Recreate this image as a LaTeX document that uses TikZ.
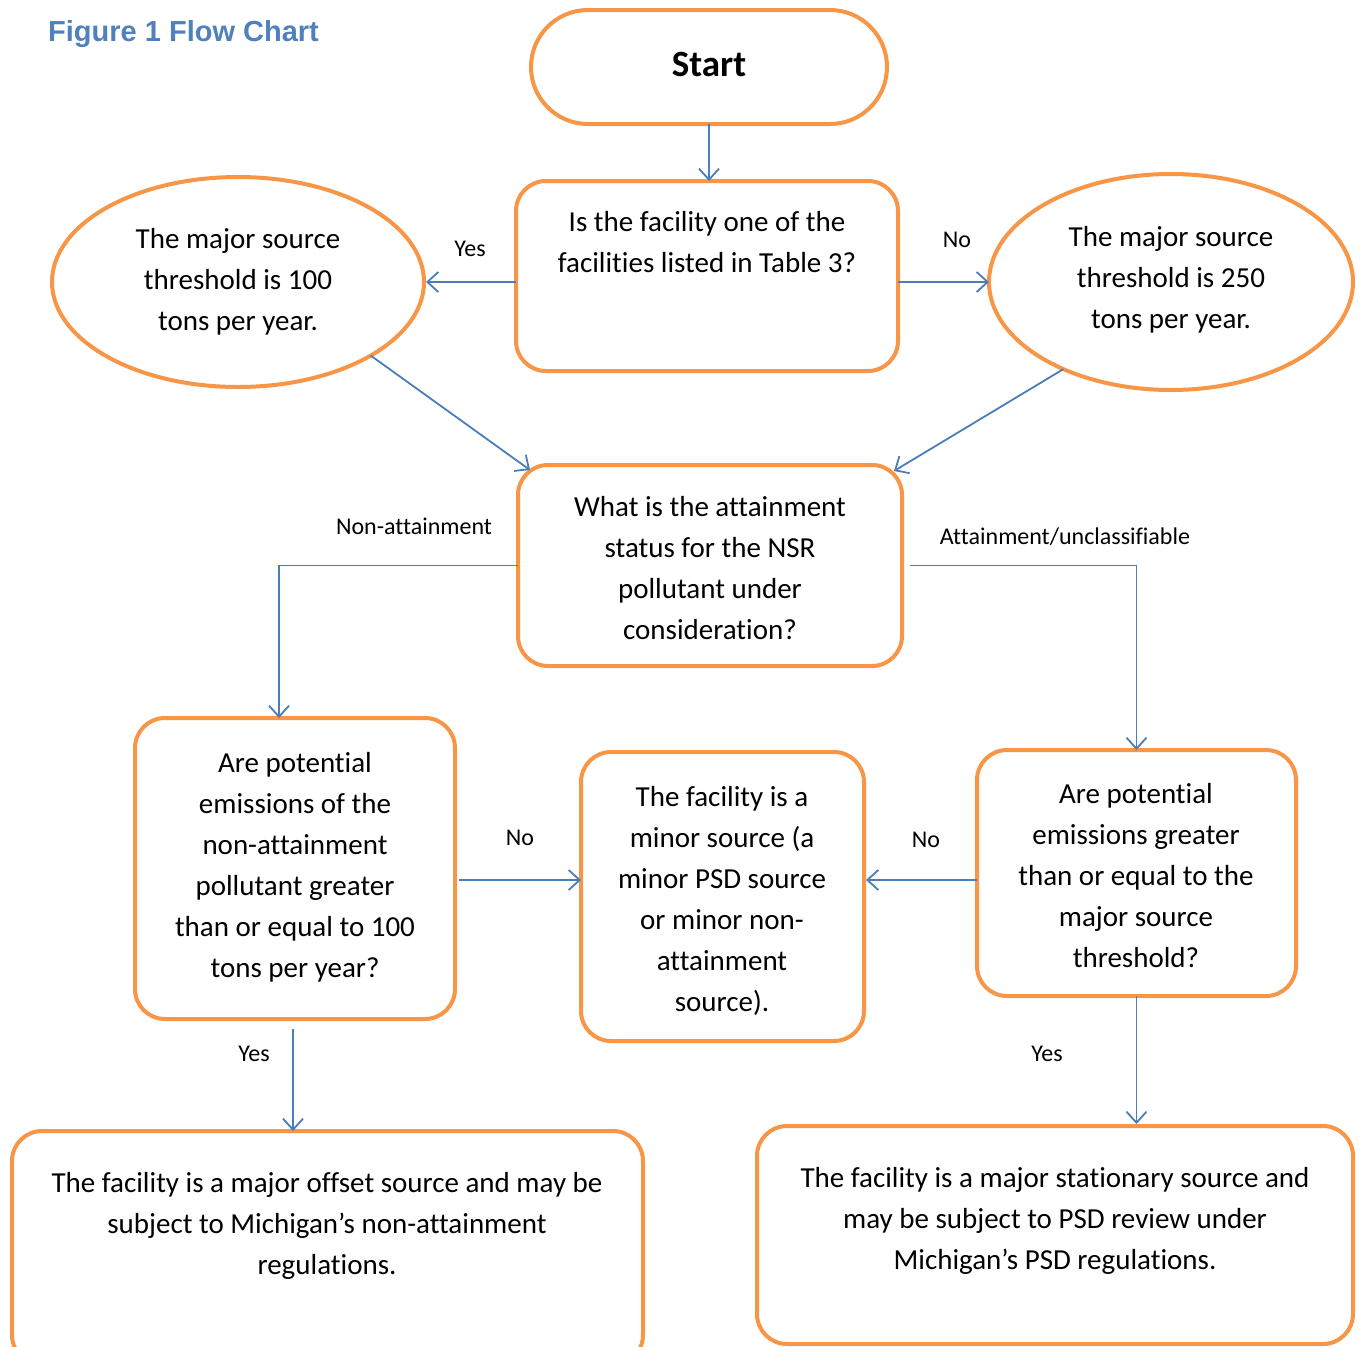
\documentclass[tikz,border=0pt]{standalone}
\usepackage{fontspec}
\setmainfont{Carlito}[Ligatures=NoCommon]
\newfontfamily\titlefont{Liberation Sans}
\usetikzlibrary{arrows.meta,shapes.geometric,calc}
\definecolor{orng}{HTML}{F79646}
\definecolor{blu}{HTML}{4A7EBB}
\definecolor{ttl}{HTML}{4F81BD}
\begin{document}
\begin{tikzpicture}[x=1pt,y=-1pt,
  box/.style={draw=orng,line width=4pt,rounded corners=30pt,inner sep=0pt,outer sep=0pt,fill=none},
  oval/.style={draw=orng,line width=4pt,ellipse,inner sep=0pt,outer sep=0pt},
  txt/.style={align=center,inner sep=0pt,font=\fontsize{29}{41}\selectfont},
  lbl/.style={inner sep=0pt,font=\fontsize{24}{28}\selectfont},
  arr/.style={draw=blu,line width=1.8pt,-{Straight Barb[length=11pt,width=20pt]}}]
\useasboundingbox (0,0) rectangle (1361,1347);
\fill[white] (0,0) rectangle (1361,1347);

\node[anchor=west,inner sep=0pt,text=ttl,font=\titlefont\bfseries\fontsize{29}{34}\selectfont] (title) at (48,34) {Figure 1 Flow Chart};

% boxes
\node[box,rounded corners=57pt,minimum width=356pt,minimum height=114pt] (start) at (709,67) {};
\node[box,minimum width=382pt,minimum height=190pt] (q1) at (707,276) {};
\node[oval,minimum width=372pt,minimum height=210pt] (e1) at (238,282) {};
\node[oval,minimum width=364pt,minimum height=216pt] (e2) at (1171,282) {};
\node[box,minimum width=384pt,minimum height=201pt] (q2) at (710,565.5) {};
\node[box,minimum width=320pt,minimum height=301pt] (q3) at (295,868.5) {};
\node[box,minimum width=283pt,minimum height=289pt] (mid) at (722.5,896.5) {};
\node[box,minimum width=319pt,minimum height=246pt] (q4) at (1136.5,873) {};
\node[box,minimum width=631pt,minimum height=234pt] (b1) at (327.5,1248) {};
\node[box,minimum width=596pt,minimum height=218pt] (b2) at (1055,1235) {};

% texts
\node[txt,font=\bfseries\fontsize{37}{44}\selectfont] (startt) at (709,65) {Start};
\node[txt] (q1t) at (707,242.5) {Is the facility one of the\\facilities listed in Table 3?};
\node[txt] (e1t) at (238,281.5) {The major source\\threshold is 100\\tons per year.};
\node[txt] (e2t) at (1171,279.5) {The major source\\threshold is 250\\tons per year.};
\node[txt] (q2t) at (710,568.5) {What is the attainment\\status for the NSR\\pollutant under\\consideration?};
\node[txt] (q3t) at (295,867.5) {Are potential\\emissions of the\\non-attainment\\pollutant greater\\than or equal to 100\\tons per year?};
\node[txt] (midt) at (722,901) {The facility is a\\minor source (a\\minor PSD source\\or minor non-\\attainment\\source).};
\node[txt] (q4t) at (1136,876) {Are potential\\emissions greater\\than or equal to the\\major source\\threshold?};
\node[txt] (b1t) at (327,1226) {The facility is a major offset source and may be\\subject to Michigan’s non-attainment\\regulations.};
\node[txt] (b2t) at (1055,1220.5) {The facility is a major stationary source and\\may be subject to PSD review under\\Michigan’s PSD regulations.};

% labels
\node[lbl] (lyes1) at (470,249) {Yes};
\node[lbl] (lno1) at (957,240) {No};
\node[lbl] (lnon) at (414,526) {Non-attainment};
\node[lbl] (latt) at (1065,537) {Attainment/unclassifiable};
\node[lbl] (lno2) at (520,838) {No};
\node[lbl] (lno3) at (926,840) {No};
\node[lbl] (lyes2) at (254,1054) {Yes};
\node[lbl] (lyes3) at (1047,1054) {Yes};

% helper coordinates
\coordinate (ys) at ($(q3.south)+(-2,10)$);
\coordinate (nl) at ($(q3.north)+(-16,0)$);
\coordinate (ar) at ($(q2.east)+(8,0)$);
\coordinate (q3e) at ($(q3.east)+(4,11.5)$);
\coordinate (q2nw) at ($(q2.north west)+(12,5)$);
\coordinate (q2ne) at ($(q2.north east)+(-8,6)$);
\coordinate (e1e) at ($(e1.east)+(2,0)$);
\coordinate (mide) at ($(mid.east)+(2,0)$);
\coordinate (b2n) at ($(b2.north)+(0,-2)$);

% connectors
\draw[arr] (start.south) -- (start.south |- q1.north);
\draw[arr] (q1.west |- e1.center) -- (e1e);
\draw[arr] (q1.east |- e2.center) -- (e2.west);
\draw[arr] (e1.-29) -- (q2nw);
\draw[arr] (e2.-141.4) -- (q2ne);
\draw[arr] (q2.west) -| (nl);
\draw[arr] (ar) -| (q4.north);
\draw[arr] (q3e) -- (mid.west |- q3e);
\draw[arr] (q4.west |- q3e) -- (mide |- q3e);
\draw[arr] (ys) -- (ys |- b1.north);
\draw[arr] (q4.south) -- (q4.south |- b2n);
\end{tikzpicture}
\end{document}
